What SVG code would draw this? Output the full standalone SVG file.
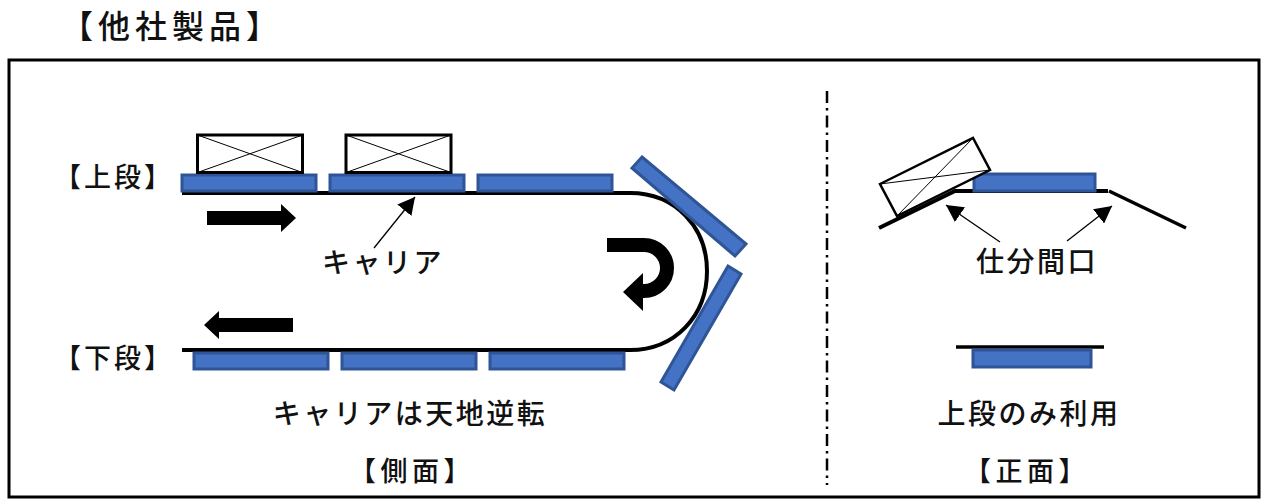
<svg xmlns="http://www.w3.org/2000/svg" width="1266" height="503" viewBox="0 0 1266 503">
<style>
text{font-family:"Noto Sans CJK JP","Noto Sans",sans-serif;font-weight:500;fill:#111;text-anchor:middle;dominant-baseline:central}
.t{font-size:32px;letter-spacing:5px}
.l{font-size:28px;letter-spacing:2.500px}
.s{font-size:27px;letter-spacing:3px}
.w{letter-spacing:4.500px}
.c{fill:#4472c4;stroke:#2f5597;stroke-width:3}
.b{fill:#fff;stroke:#000;stroke-width:3}
.x{stroke:#000;stroke-width:1;fill:none}
.belt{stroke:#000;stroke-width:4;fill:none}
.thin{stroke:#000;stroke-width:1.300;fill:none;marker-end:url(#a)}
</style>
<defs>
<marker id="a" markerUnits="userSpaceOnUse" markerWidth="18" markerHeight="18" refX="17" refY="9" orient="auto"><path d="M0 0L17 9L0 18Z" fill="#000"/></marker>
</defs>
<rect width="1266" height="503" fill="#fff"/>
<rect id="frame" x="9" y="60" width="1250" height="437" fill="none" stroke="#000" stroke-width="3"/>
<text id="title" class="t" x="172" y="24">【他社製品】</text>
<g id="connectors">
<path class="belt" d="M182 193H630C676 193 707 228 707 271C707 316 675 350 630 350H182"/>
<path d="M827 91V485" stroke="#000" stroke-width="2.500" stroke-dasharray="12 5 2.500 5" fill="none"/>
<path class="thin" d="M374 248L415 197"/>
<path class="thin" d="M1000 242L946 205"/>
<path class="thin" d="M1067 241L1112 206"/>
<path d="M207 211H281V204L296 218L281 232V225H207Z" fill="#000"/>
<path d="M293 318H219V311L204 325L219 339V332H293Z" fill="#000"/>
<path d="M607 245H644A23 23 0 0 1 644 291H636" fill="none" stroke="#000" stroke-width="14"/>
<path d="M623 292L643 273V311Z" fill="#000"/>
</g>
<g id="upper-carriers">
<rect class="c" x="182" y="175" width="134" height="16"/>
<rect class="c" x="330" y="175" width="134" height="16"/>
<rect class="c" x="478" y="175" width="134" height="16"/>
</g>
<g id="lower-carriers">
<rect class="c" x="194" y="353" width="134" height="16"/>
<rect class="c" x="342" y="353" width="134" height="16"/>
<rect class="c" x="490" y="353" width="134" height="16"/>
</g>
<g id="turn-carriers">
<path class="c" d="M642 157L746 244L735 256L632 168Z"/>
<path class="c" d="M728 266L741 274L674 390L661 382Z"/>
</g>
<g id="package-1">
<rect class="b" x="197.500" y="135" width="105" height="37.500"/>
<path class="x" d="M197.500 135L302.500 172.500M302.500 135L197.500 172.500"/>
</g>
<g id="package-2">
<rect class="b" x="346" y="135" width="105" height="37.500"/>
<path class="x" d="M346 135L451 172.500M451 135L346 172.500"/>
</g>
<g id="front-upper">
<path d="M879 228L955 191H1108" fill="none" stroke="#000" stroke-width="4"/>
<path d="M1109 191L1186 228" fill="none" stroke="#000" stroke-width="3.500"/>
<rect class="c" x="974" y="174" width="121" height="17"/>
<path d="M880 184L973 138L990 170L897 216Z" fill="#fff" fill-opacity="0.95" stroke="#000" stroke-width="2.500"/>
<path class="x" d="M880 184L990 170M973 138L897 216"/>
</g>
<g id="front-lower">
<path d="M956 347H1104" stroke="#000" stroke-width="3.500" fill="none"/>
<rect class="c" x="973" y="350" width="118" height="17"/>
</g>
<g id="labels">
<text class="s" x="114" y="175">【上段】</text>
<text class="s" x="114" y="356">【下段】</text>
<text class="l" x="383" y="261">キャリア</text>
<text class="l" x="410" y="412">キャリアは天地逆転</text>
<text class="s w" x="412" y="469">【側面】</text>
<text class="l" x="1037" y="260">仕分間口</text>
<text class="l" x="1029" y="412">上段のみ利用</text>
<text class="s w" x="1027" y="469">【正面】</text>
</g>
</svg>
